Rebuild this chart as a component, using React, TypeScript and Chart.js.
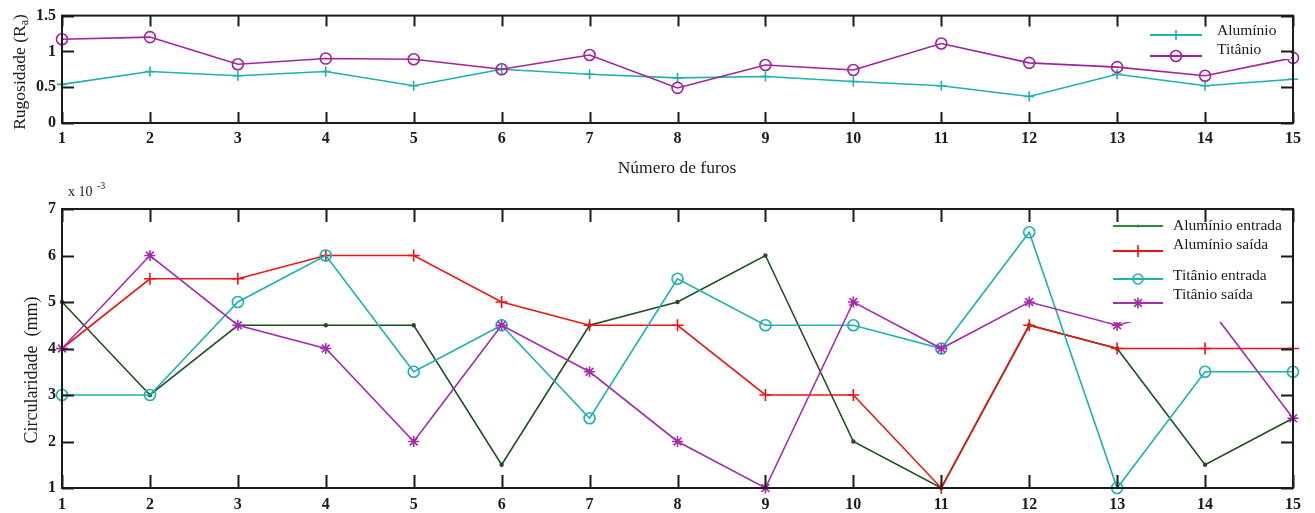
import { useEffect, useRef } from "react";
import { Chart, registerables } from "chart.js";

Chart.register(...registerables);

// Canvas size
const W = 1315;
const H = 513;

// Hole number (x axis)
const furos = ["1", "2", "3", "4", "5", "6", "7", "8", "9", "10", "11", "12", "13", "14", "15"];

// Surface roughness Ra per hole
const rugosidadeAluminio = [0.54, 0.72, 0.66, 0.72, 0.52, 0.75, 0.68, 0.63, 0.65, 0.58, 0.52, 0.37, 0.68, 0.52, 0.61];
const rugosidadeTitanio = [1.17, 1.2, 0.82, 0.9, 0.89, 0.75, 0.95, 0.49, 0.81, 0.74, 1.11, 0.84, 0.78, 0.66, 0.91];

// Circularity per hole, in units of 10^-3 mm
const circAluminioEntrada = [5, 3, 4.5, 4.5, 4.5, 1.5, 4.5, 5, 6, 2, 1, 4.5, 4, 1.5, 2.5];
const circAluminioSaida = [4, 5.5, 5.5, 6, 6, 5, 4.5, 4.5, 3, 3, 1, 4.5, 4, 4, 4];
const circTitanioEntrada = [3, 3, 5, 6, 3.5, 4.5, 2.5, 5.5, 4.5, 4.5, 4, 6.5, 1, 3.5, 3.5];
const circTitanioSaida = [4, 6, 4.5, 4, 2, 4.5, 3.5, 2, 1, 5, 4, 5, 4.5, 5, 2.5];

// Axis ranges
const rugosidadeRange = { min: 0, max: 1.5, step: 0.5 };
const circularidadeRange = { min: 1, max: 7, step: 1 };

const SERIF = '"Liberation Serif", "Times New Roman", "DejaVu Serif", serif';
const INK = "#1b1b1b";
const CYAN = "#1fb0b0";
const PURPLE = "#a1229f";
const PURPLE2 = "#a52bb0";
const RED = "#ee1414";
const GREEN = "#1f4f1f";
const GREEN_KEY = "#2f8a3f";

type Mark = "cross" | "circle" | "star" | "dot";

interface LegendEntry {
  text: string;
  color: string;
  mark: Mark;
  size: number;
  lineY: number;
  textY: number;
}

interface FrameCfg {
  tickLenX: number;
  tickLenY: number;
  box: { x: number; y: number; w: number; h: number };
  lineX0: number;
  lineX1: number;
  textX: number;
  fontSize: number;
  entries: LegendEntry[];
  decorate?: (ctx: CanvasRenderingContext2D) => void;
}

function drawMark(ctx: CanvasRenderingContext2D, mark: Mark, x: number, y: number, r: number, color: string) {
  ctx.save();
  ctx.strokeStyle = color;
  ctx.fillStyle = color;
  ctx.lineWidth = 1.6;
  ctx.beginPath();
  if (mark === "cross" || mark === "star") {
    ctx.moveTo(x - r, y);
    ctx.lineTo(x + r, y);
    ctx.moveTo(x, y - r);
    ctx.lineTo(x, y + r);
    if (mark === "star") {
      const d = r * 0.7071;
      ctx.moveTo(x - d, y - d);
      ctx.lineTo(x + d, y + d);
      ctx.moveTo(x - d, y + d);
      ctx.lineTo(x + d, y - d);
    }
    ctx.stroke();
  } else if (mark === "circle") {
    ctx.arc(x, y, r, 0, Math.PI * 2);
    ctx.stroke();
  } else {
    ctx.arc(x, y, r, 0, Math.PI * 2);
    ctx.fill();
  }
  ctx.restore();
}

function rotatedText(
  ctx: CanvasRenderingContext2D,
  cx: number,
  cy: number,
  parts: { text: string; size: number; dy: number }[]
) {
  ctx.save();
  ctx.translate(cx, cy);
  ctx.rotate(-Math.PI / 2);
  ctx.fillStyle = INK;
  ctx.textBaseline = "middle";
  ctx.textAlign = "left";
  const widths = parts.map((p) => {
    ctx.font = `${p.size}px ${SERIF}`;
    return ctx.measureText(p.text).width;
  });
  let x = -widths.reduce((a, b) => a + b, 0) / 2;
  parts.forEach((p, i) => {
    ctx.font = `${p.size}px ${SERIF}`;
    ctx.fillText(p.text, x, p.dy);
    x += widths[i];
  });
  ctx.restore();
}

function framePlugin(cfg: FrameCfg) {
  return {
    id: "frameAndKey",
    afterDatasetsDraw(chart: any) {
      const ctx: CanvasRenderingContext2D = chart.ctx;
      const { box } = cfg;
      ctx.save();
      ctx.fillStyle = "#ffffff";
      ctx.fillRect(box.x, box.y, box.w, box.h);
      cfg.entries.forEach((e) => {
        ctx.strokeStyle = e.color;
        ctx.lineWidth = 2;
        ctx.beginPath();
        ctx.moveTo(cfg.lineX0, e.lineY);
        ctx.lineTo(cfg.lineX1, e.lineY);
        ctx.stroke();
        drawMark(ctx, e.mark, (cfg.lineX0 + cfg.lineX1) / 2, e.lineY, e.size, e.color);
        ctx.fillStyle = INK;
        ctx.font = `${cfg.fontSize}px ${SERIF}`;
        ctx.textAlign = "left";
        ctx.textBaseline = "middle";
        ctx.fillText(e.text, cfg.textX, e.textY);
      });
      ctx.restore();
    },
    afterDraw(chart: any) {
      const ctx: CanvasRenderingContext2D = chart.ctx;
      const { left, right, top, bottom } = chart.chartArea;
      const xs = chart.scales.x;
      const ys = chart.scales.y;
      ctx.save();
      ctx.strokeStyle = INK;
      ctx.lineWidth = 2;
      ctx.beginPath();
      xs.ticks.forEach((_t: any, i: number) => {
        const px = Math.round(xs.getPixelForTick(i)) + 0.5;
        ctx.moveTo(px, bottom);
        ctx.lineTo(px, bottom - cfg.tickLenX);
        ctx.moveTo(px, top);
        ctx.lineTo(px, top + cfg.tickLenX);
      });
      ys.ticks.forEach((t: any) => {
        const py = Math.round(ys.getPixelForValue(t.value)) + 0.5;
        ctx.moveTo(left, py);
        ctx.lineTo(left + cfg.tickLenY, py);
        ctx.moveTo(right, py);
        ctx.lineTo(right - cfg.tickLenY, py);
      });
      ctx.stroke();
      ctx.strokeRect(left, top, right - left, bottom - top);
      if (cfg.decorate) cfg.decorate(ctx);
      ctx.restore();
    },
  };
}

function axisOptions(
  range: { min: number; max: number; step: number },
  padTop: number,
  plotBottom: number,
  labelPad: number
) {
  return {
    responsive: false,
    animation: false as const,
    events: [] as any[],
    layout: { padding: { left: 0, right: W - 1293, top: padTop, bottom: 0 } },
    plugins: { legend: { display: false }, tooltip: { enabled: false } },
    scales: {
      x: {
        type: "category" as const,
        offset: false,
        grid: { display: false, drawTicks: false },
        border: { display: false },
        ticks: {
          autoSkip: false,
          maxRotation: 0,
          padding: labelPad,
          color: INK,
          font: { family: SERIF, size: 16, weight: "bold" as const },
        },
        afterFit: (s: any) => {
          s.height = H - plotBottom;
        },
      },
      y: {
        min: range.min,
        max: range.max,
        grid: { display: false, drawTicks: false },
        border: { display: false },
        ticks: {
          stepSize: range.step,
          padding: 6,
          color: INK,
          font: { family: SERIF, size: 16, weight: "bold" as const },
          callback: (v: number | string) => String(Number(v)),
        },
        afterFit: (s: any) => {
          s.width = 62;
        },
      },
    },
  };
}

function lineSet(label: string, data: number[], color: string, pointStyle: string, radius: number, order: number) {
  return {
    label,
    data,
    order,
    borderColor: color,
    borderWidth: 1.6,
    tension: 0,
    fill: false,
    clip: false as const,
    pointStyle,
    pointRadius: radius,
    pointBorderColor: color,
    pointBackgroundColor: pointStyle === "circle" && radius < 3 ? color : "rgba(0,0,0,0)",
    pointBorderWidth: 1.6,
  };
}

export default function App() {
  const topRef = useRef<HTMLCanvasElement | null>(null);
  const bottomRef = useRef<HTMLCanvasElement | null>(null);

  useEffect(() => {
    if (!topRef.current || !bottomRef.current) return;

    const topChart = new Chart(topRef.current, {
      type: "line",
      data: {
        labels: furos,
        datasets: [
          lineSet("Alumínio", rugosidadeAluminio, CYAN, "cross", 5, 2),
          lineSet("Titânio", rugosidadeTitanio, PURPLE, "circle", 5.5, 1),
        ] as any,
      },
      options: axisOptions(rugosidadeRange, 14, 123, 6) as any,
      plugins: [
        framePlugin({
          tickLenX: 11,
          tickLenY: 12,
          box: { x: 1145, y: 22, w: 146, h: 37 },
          lineX0: 1150,
          lineX1: 1202,
          textX: 1217,
          fontSize: 15.5,
          entries: [
            { text: "Alumínio", color: CYAN, mark: "cross", size: 5, lineY: 35, textY: 31 },
            { text: "Titânio", color: PURPLE, mark: "circle", size: 5.5, lineY: 56, textY: 50 },
          ],
          decorate: (ctx) => {
            rotatedText(ctx, 20, 72, [
              { text: "Rugosidade (R", size: 17.5, dy: 0 },
              { text: "a", size: 12, dy: 5 },
              { text: ")", size: 17.5, dy: 0 },
            ]);
          },
        }),
      ],
    });

    const bottomChart = new Chart(bottomRef.current, {
      type: "line",
      data: {
        labels: furos,
        datasets: [
          lineSet("Alumínio entrada", circAluminioEntrada, GREEN, "circle", 1.4, 4),
          lineSet("Alumínio saída", circAluminioSaida, RED, "cross", 6, 3),
          lineSet("Titânio entrada", circTitanioEntrada, CYAN, "circle", 5.5, 2),
          lineSet("Titânio saída", circTitanioSaida, PURPLE2, "star", 5.5, 1),
        ] as any,
      },
      options: axisOptions(circularidadeRange, 209, 488, 7) as any,
      plugins: [
        framePlugin({
          tickLenX: 13,
          tickLenY: 12,
          box: { x: 1105, y: 214, w: 186, h: 108 },
          lineX0: 1113,
          lineX1: 1163,
          textX: 1173,
          fontSize: 15.5,
          entries: [
            { text: "Alumínio entrada", color: GREEN_KEY, mark: "dot", size: 1.6, lineY: 226, textY: 226 },
            { text: "Alumínio saída", color: RED, mark: "cross", size: 6, lineY: 251, textY: 245 },
            { text: "Titânio entrada", color: CYAN, mark: "circle", size: 5, lineY: 279, textY: 276 },
            { text: "Titânio saída", color: PURPLE2, mark: "star", size: 5.5, lineY: 303, textY: 295 },
          ],
          decorate: (ctx) => {
            ctx.fillStyle = INK;
            ctx.textBaseline = "middle";
            ctx.textAlign = "center";
            ctx.font = `17.5px ${SERIF}`;
            ctx.fillText("Número de furos", 677, 168);
            ctx.textAlign = "left";
            ctx.font = `14px ${SERIF}`;
            ctx.fillText("x 10", 68, 192);
            ctx.font = `10px ${SERIF}`;
            ctx.fillText("-3", 97, 186);
            rotatedText(ctx, 32, 370, [{ text: "Circularidade  (mm)", size: 18, dy: 0 }]);
          },
        }),
      ],
    });

    return () => {
      topChart.destroy();
      bottomChart.destroy();
    };
  }, []);

  const canvasStyle = { position: "absolute" as const, left: 0, top: 0 };

  return (
    <div style={{ position: "fixed", left: 0, top: 0, width: W, height: H, background: "#ffffff" }}>
      <canvas ref={topRef} width={W} height={H} style={canvasStyle} />
      <canvas ref={bottomRef} width={W} height={H} style={canvasStyle} />
    </div>
  );
}
